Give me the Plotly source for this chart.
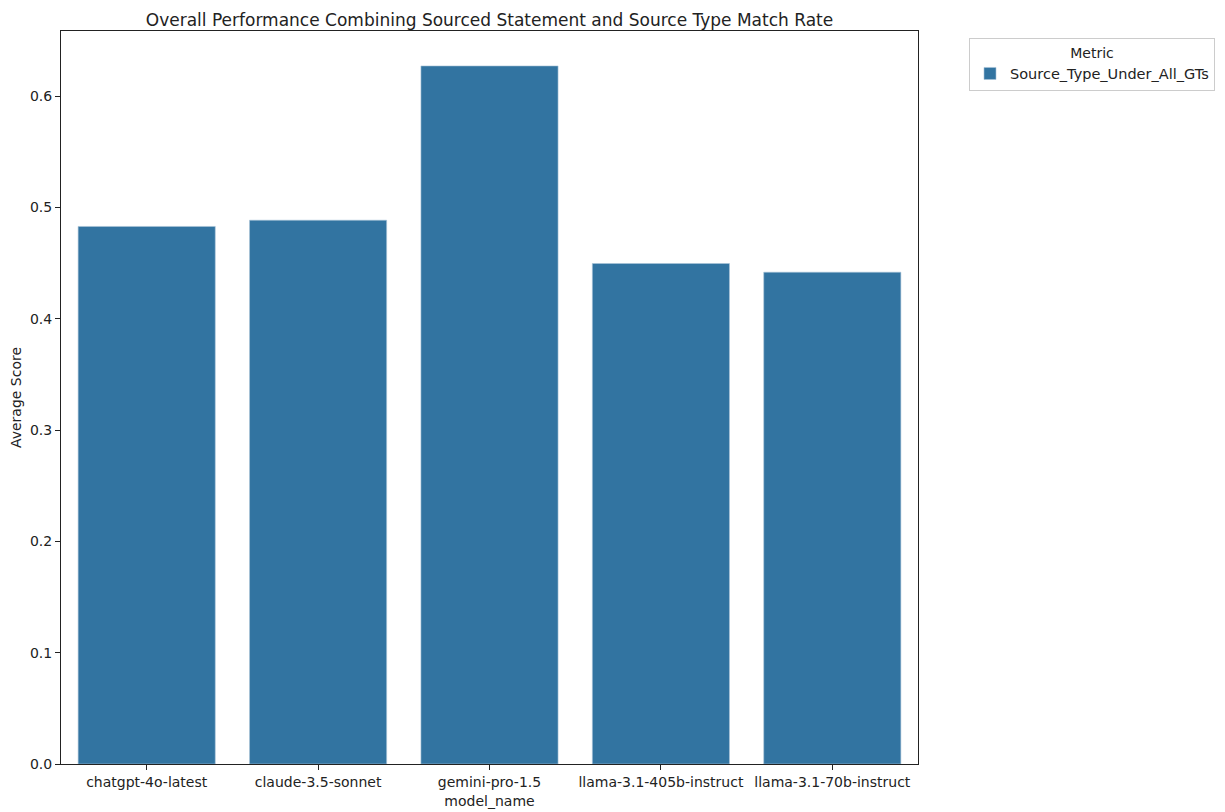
import plotly.graph_objects as go

models = ["chatgpt-4o-latest", "claude-3.5-sonnet", "gemini-pro-1.5",
          "llama-3.1-405b-instruct", "llama-3.1-70b-instruct"]
scores = [0.483, 0.4886, 0.6272, 0.4497, 0.4419]
metric_name = "Source_Type_Under_All_GTs"
y_ticks = [0.0, 0.1, 0.2, 0.3, 0.4, 0.5, 0.6]

font_family = "DejaVu Sans"

fig = go.Figure()
fig.add_trace(go.Bar(
    x=models, y=scores, name=metric_name,
    marker=dict(color="#3274a1", line=dict(color="#a9c4d8", width=0.6)),
    width=0.8, showlegend=True,
))

axis_common = dict(
    showline=True, linecolor="#222", linewidth=1, mirror=True,
    ticks="outside", ticklen=5, tickwidth=1, tickcolor="#222",
    showgrid=False, zeroline=False, automargin=False,
    tickfont=dict(family=font_family, size=14, color="#222"),
)

# the page adds an 8px offset; plot area in reference: x 61..918, y 31..764
L, R, T, B = 53, 1225 - 910, 23, 812 - 756

fig.update_layout(
    width=1225, height=812,
    margin=dict(l=L, r=R, t=T, b=B),
    paper_bgcolor="white", plot_bgcolor="white",
    font=dict(family=font_family, size=14, color="#222"),
    title=dict(text="Overall Performance Combining Sourced Statement and Source Type Match Rate",
               xref="paper", x=0.5, xanchor="center",
               yref="paper", y=1, yanchor="bottom", pad=dict(b=5),
               font=dict(family=font_family, size=17, color="#222")),
    xaxis=dict(axis_common, range=[-0.5, 4.5],
               title=dict(text="model_name", standoff=7,
                          font=dict(family=font_family, size=14, color="#222"))),
    yaxis=dict(axis_common, range=[0, 0.6586], tickvals=y_ticks, tickformat=".1f",
               title=dict(text="Average Score", standoff=8,
                          font=dict(family=font_family, size=14, color="#222"))),
    legend=dict(
        x=(969 - 61) / 857, y=0.99, xanchor="left", yanchor="top",
        bordercolor="#cccccc", borderwidth=1, bgcolor="white",
        title=dict(text="Metric", side="top center",
                   font=dict(family=font_family, size=14, color="#222")),
        font=dict(family=font_family, size=14.5, color="#222"),
    ),
    bargap=0.2,
)

fig.write_html("out.html")
